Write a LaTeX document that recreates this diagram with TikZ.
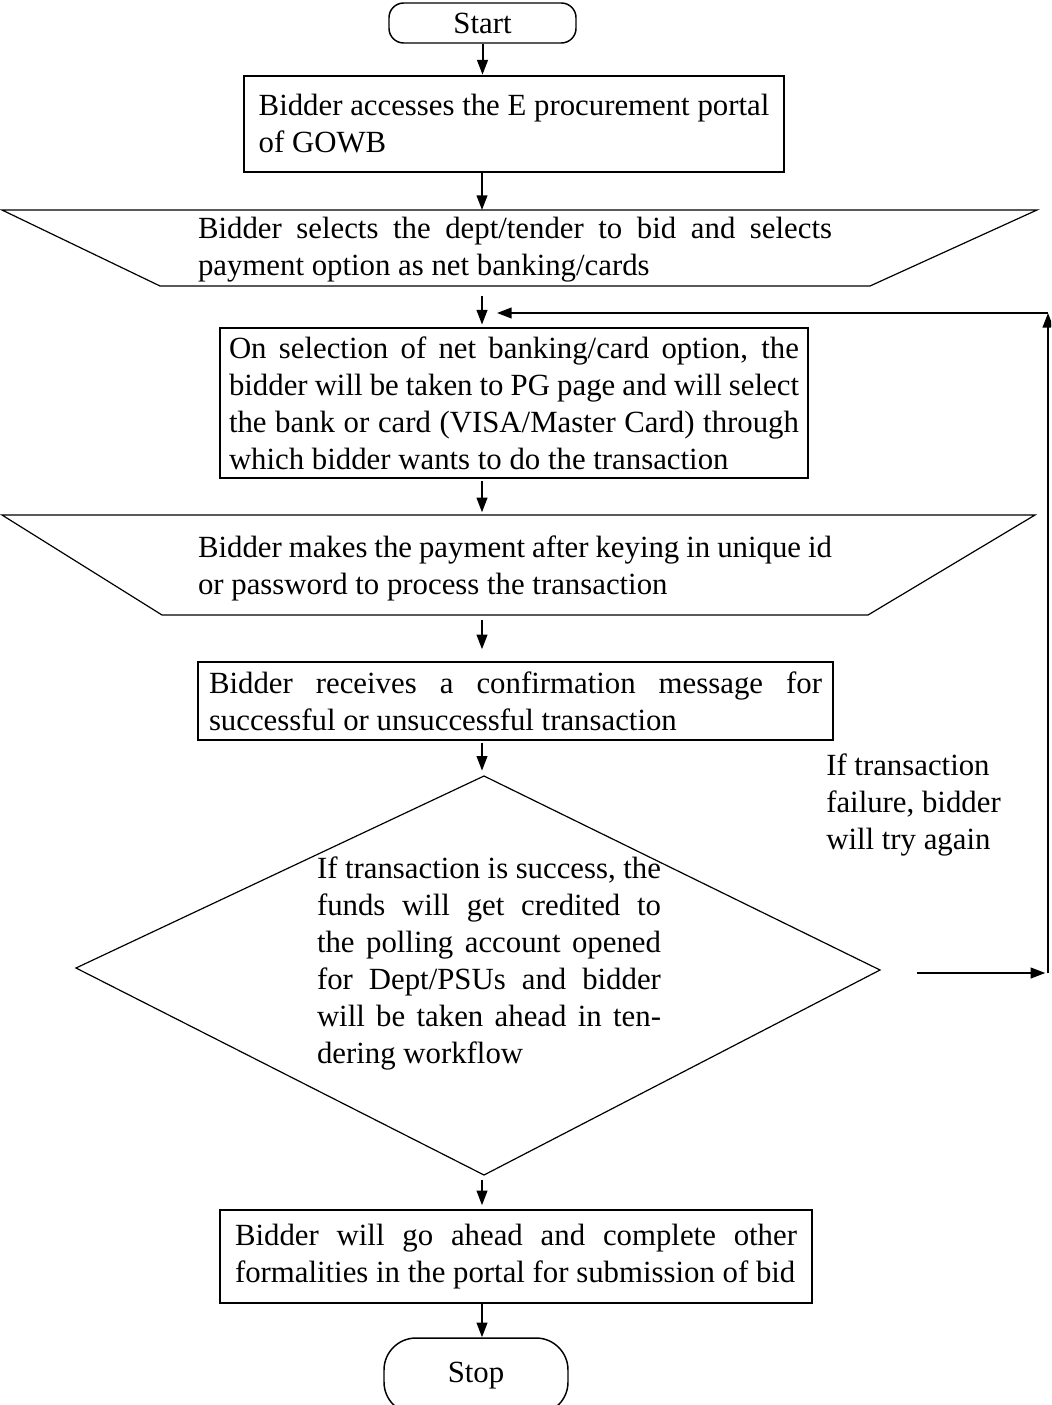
\documentclass[tikz,border=0pt]{standalone}
\usepackage{fontspec}
\setmainfont{Liberation Serif}
\usetikzlibrary{arrows.meta,calc}
\begin{document}
\begin{tikzpicture}[x=0.75pt,y=-0.75pt,
  font=\fontsize{23.1}{27.75}\selectfont,
  box/.style={draw,line width=1.1pt,inner ysep=0pt,align=justify},
  term/.style={draw,line width=1.1pt,rounded corners=11pt,inner sep=0pt},
  shp/.style={draw,line width=0.9pt},
  arr/.style={line width=1.5pt,-{Triangle[length=11pt,width=8pt]}},
  txt/.style={inner sep=0pt,align=justify}]
\clip (0,0) rectangle (1051,1405);
\coordinate (axis) at (482,0);
% start
\node[term,minimum width=140.25pt,minimum height=30pt] (start) at (482.5,23) {Start};
% box 1
\node[draw,line width=2pt,inner ysep=0pt,align=left,minimum width=405pt,minimum height=72pt] (box1) at (514,124)
  {Bidder accesses the E procurement portal\\of GOWB};
% trapezoid 1
\coordinate (t1a) at (2,210); \coordinate (t1b) at (1037,210);
\coordinate (t1c) at (870,286); \coordinate (t1d) at (160,286);
\draw[shp] (t1a) -- (t1b) -- (t1c) -- (t1d) -- cycle;
\node[txt,text width=475.5pt] (t1) at (515,250)
  {Bidder selects the dept/tender to bid and selects\linebreak payment option as net banking/cards};
% box 2
\node[box,minimum width=441pt,minimum height=112.5pt,inner xsep=6.75pt,text width=427.5pt] (box2) at (514,403)
  {On selection of net banking/card option, the\linebreak bidder will be taken to PG page and will select\linebreak the bank or card (VISA/Master Card) through\linebreak which bidder wants to do the transaction};
% trapezoid 2
\coordinate (t2a) at (2,515); \coordinate (t2b) at (1035,515);
\coordinate (t2c) at (868,615); \coordinate (t2d) at (162,615);
\draw[shp] (t2a) -- (t2b) -- (t2c) -- (t2d) -- cycle;
\node[txt,text width=475.5pt] (t2) at (515,568)
  {Bidder makes the payment after keying in unique id\linebreak or password to process the transaction};
% box 3
\node[box,minimum width=476.25pt,minimum height=58.5pt,inner xsep=8.25pt,text width=459.75pt] (box3) at (515.5,701)
  {Bidder receives a confirmation message for\linebreak successful or unsuccessful transaction};
% diamond
\coordinate (dtop) at (484,776); \coordinate (dright) at (880,970);
\coordinate (dbot) at (484,1175); \coordinate (dleft) at (76,968);
\draw[shp] (dtop) -- (dright) -- (dbot) -- (dleft) -- cycle;
\node[txt,text width=258pt] (dtext) at (489,963)
  {If transaction is success, the\linebreak funds will get credited to\linebreak the polling account opened\linebreak for Dept/PSUs and bidder\linebreak will be taken ahead in ten-\linebreak dering workflow};
% failure label
\node[inner sep=0pt,align=left,anchor=north west] (fail) at (826,754)
  {If transaction\\failure, bidder\\will try again};
% box 4
\node[box,minimum width=444pt,minimum height=69.75pt,inner xsep=11.25pt,text width=421.5pt] (box4) at (516,1256.5)
  {Bidder will go ahead and complete other\linebreak formalities in the portal for submission of bid};
% stop
\node[term,rounded corners=24pt,minimum width=138pt,minimum height=57pt] (stop) at (476,1376) {Stop};
% connectors
\draw[arr] (start.south) -- (start.south |- box1.north);
\draw[arr] (axis |- box1.south) -- (axis |- t1a);
\draw[arr,shorten <=7.5pt,shorten >=2pt] (axis |- t1d) -- (axis |- box2.north);
\draw[arr,shorten <=2pt,shorten >=2pt] (axis |- box2.south) -- (axis |- t2a);
\draw[arr,shorten <=4pt,shorten >=9pt] (axis |- t2d) -- (axis |- box3.north);
\draw[arr,shorten <=1.5pt,shorten >=4pt] (axis |- box3.south) -- (axis |- dtop);
\draw[arr,shorten <=4pt,shorten >=3pt] (axis |- dbot) -- (axis |- box4.north);
\draw[arr] (axis |- box4.south) -- (axis |- stop.north);
% feedback loop
\coordinate (fb1) at (917,973); \coordinate (fb2) at (1048,973);
\coordinate (fb3) at (1048,313); \coordinate (fb4) at (497,313);
\draw[arr,shorten >=2pt] (fb1) -- (fb2);
\draw[arr] (fb2) -- (fb3);
\draw[arr] (fb3) -- (fb4);
\end{tikzpicture}
\end{document}
